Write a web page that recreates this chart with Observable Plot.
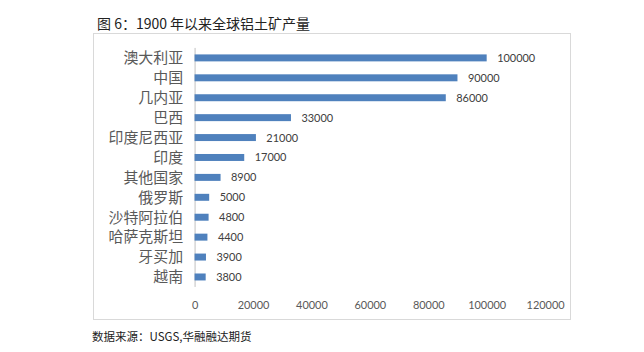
<!DOCTYPE html>
<html>
<head>
<meta charset="utf-8">
<script src="https://cdn.jsdelivr.net/npm/d3@7"></script>
<script src="https://cdn.jsdelivr.net/npm/@observablehq/plot@0.6"></script>
<style>
  html, body { margin: 0; padding: 0; background: #fff; }
  #wrap { position: relative; width: 644px; height: 352px; font-family: "Noto Sans CJK SC", sans-serif; }
  #title { position: absolute; left: 97px; top: 13px; font-size: 14px; color: #222; white-space: nowrap; }
  #chart { position: absolute; left: 93px; top: 33px; width: 478px; height: 287px; border: 1px solid #d9d9d9; box-sizing: border-box; }
  #chart svg { position: absolute; left: -1px; top: -1px; }
  #caption { position: absolute; left: 92px; top: 328px; font-size: 11.5px; color: #222; white-space: nowrap; }
</style>
</head>
<body>
<div id="wrap">
  <div id="title">图 6：1900 年以来全球铝土矿产量</div>
  <div id="chart"></div>
  <div id="caption">数据来源：USGS,华融融达期货</div>
</div>
<script>
const countries = ["澳大利亚", "中国", "几内亚", "巴西", "印度尼西亚", "印度", "其他国家", "俄罗斯", "沙特阿拉伯", "哈萨克斯坦", "牙买加", "越南"];
const values = [100000, 90000, 86000, 33000, 21000, 17000, 8900, 5000, 4800, 4400, 3900, 3800];
const xTicks = [0, 20000, 40000, 60000, 80000, 100000, 120000];

const data = countries.map((c, i) => ({country: c, value: values[i]}));

const chart = Plot.plot({
  width: 478,
  height: 287,
  marginLeft: 102,
  marginRight: 24,
  marginTop: 15,
  marginBottom: 32,
  style: {fontFamily: "Lato, 'Noto Sans CJK SC', sans-serif", background: "transparent"},
  x: {domain: [0, 120000], ticks: xTicks, tickFormat: d => String(d), label: null},
  y: {domain: countries, padding: 0, label: null},
  marks: [
    Plot.axisX({ticks: xTicks, tickFormat: d => String(d), tickSize: 0, tickPadding: 14, fontSize: 11, fill: "#595959", label: null}),
    Plot.axisY({tickSize: 0, tickPadding: 12, fontSize: 15, fill: "#595959", fontFamily: "'Noto Sans CJK SC', sans-serif", label: null}),
    Plot.ruleX([0], {stroke: "#bfbfbf"}),
    Plot.barX(data, {y: "country", x: "value", fill: "#4F81BD", insetTop: 6.5, insetBottom: 6.5}),
    Plot.text(data, {y: "country", x: "value", text: d => String(d.value), dx: 10, textAnchor: "start", fontSize: 11, fill: "#404040"})
  ]
});
document.getElementById("chart").appendChild(chart);
</script>
</body>
</html>
